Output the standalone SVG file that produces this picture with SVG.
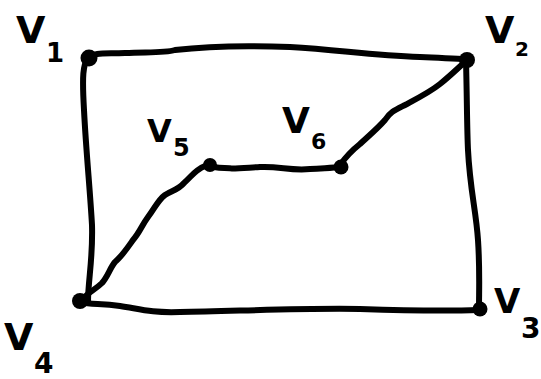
<svg xmlns="http://www.w3.org/2000/svg" width="541" height="379" viewBox="0 0 541 379">
<style>
.e{fill:none;stroke:#000;stroke-width:6;stroke-linecap:round;stroke-linejoin:round}
.n{fill:#000}
.v{font-family:"DejaVu Sans",sans-serif;font-weight:bold;fill:#000}
</style>
<rect width="541" height="379" fill="#fff"/>
<g id="connectors">
<path class="e" d="M88,58 C95,52 105,54 125,53 C150,52 165,53 175,50 C200,47 240,45 290,47 C340,50 370,55 420,57 C445,58 455,59 466,59"/>
<path class="e" d="M88,58 C83,65 82,75 84,110 C86,150 90,190 92,225 C93,260 88,280 88,302"/>
<path class="e" d="M466,60 C467,100 467,130 468,150 C470,190 476,210 478,240 C480,270 479,290 479,309"/>
<path class="e" d="M80,302 C92,305 100,303 120,306 C140,309 150,313 180,312 C240,311 300,308 360,309 C420,311 450,311 479,310"/>
<path class="e" d="M82,300 C88,292 95,290 102,283 C108,276 110,268 115,262 C122,256 126,250 133,240 C140,232 142,225 148,217 C155,208 158,200 165,195 C173,190 178,190 184,183 C192,176 195,170 205,166"/>
<path class="e" d="M207,166 C230,170 240,168 260,167 C280,166 290,171 310,169 C325,168 332,168 341,167"/>
<path class="e" d="M340,165 C345,158 350,152 360,144 C372,133 378,128 385,120 C390,112 395,110 405,105 C420,97 430,92 440,84 C450,76 458,68 466,61"/>
</g>
<g id="v1"><circle class="n" cx="89" cy="58" r="8.5"/><text class="v"><tspan x="16" y="43" font-size="38">V</tspan><tspan x="46" y="62" font-size="26">1</tspan></text></g>
<g id="v2"><circle class="n" cx="467" cy="60" r="8"/><text class="v"><tspan x="485" y="43" font-size="38">V</tspan><tspan x="515" y="56" font-size="20">2</tspan></text></g>
<g id="v3"><circle class="n" cx="480" cy="309" r="7.5"/><text class="v"><tspan x="494" y="313" font-size="34">V</tspan><tspan x="521" y="338" font-size="28">3</tspan></text></g>
<g id="v4"><circle class="n" cx="80" cy="301" r="8"/><text class="v"><tspan x="4" y="350" font-size="38">V</tspan><tspan x="34" y="373" font-size="28">4</tspan></text></g>
<g id="v5"><circle class="n" cx="210" cy="165" r="7"/><text class="v"><tspan x="147" y="142" font-size="32">V</tspan><tspan x="173" y="156" font-size="24">5</tspan></text></g>
<g id="v6"><circle class="n" cx="341" cy="167" r="7.5"/><text class="v"><tspan x="282" y="133" font-size="36">V</tspan><tspan x="311" y="149" font-size="22">6</tspan></text></g>
</svg>
